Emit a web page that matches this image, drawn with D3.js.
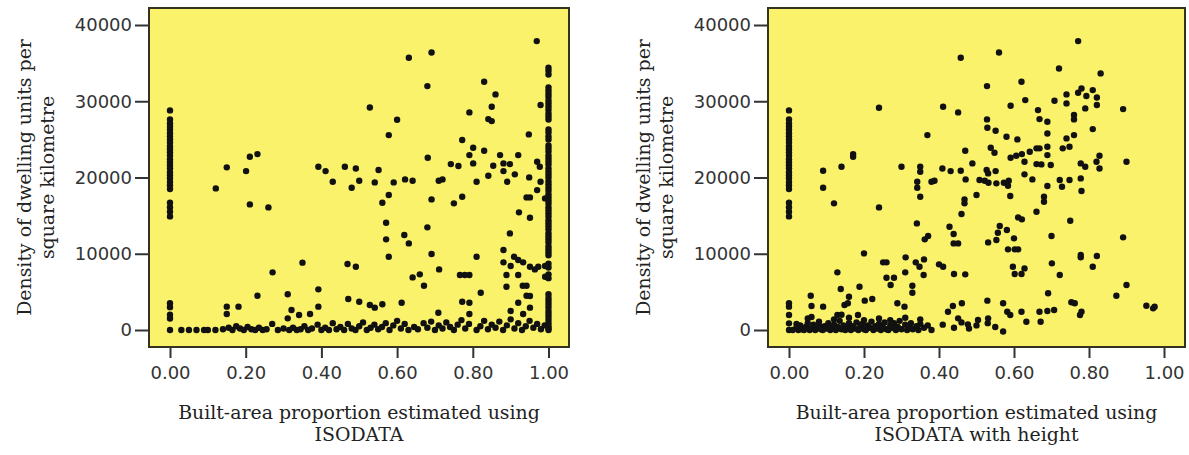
<!DOCTYPE html>
<html><head><meta charset="utf-8">
<script src="https://cdn.jsdelivr.net/npm/d3@7"></script>
<style>body{margin:0;background:#fff}svg{display:block}</style>
</head><body>
<svg id="chart" width="1189" height="455"></svg>
<script>
// ---------- DATA ----------
const xTicks = [0, 0.2, 0.4, 0.6, 0.8, 1.0];
const yTicks = [0, 10000, 20000, 30000, 40000];
const yTitleLines = ["Density of dwelling units per", "square kilometre"];
const xTitleLeft = ["Built-area proportion estimated using", "ISODATA"];
const xTitleRight = ["Built-area proportion estimated using", "ISODATA with height"];

// Left panel (ISODATA): values at x = 0
const leftZeroColumn = [28800,27600,27100,26700,26300,25800,25400,25000,24600,24100,23700,23300,22900,22400,22000,21600,21200,20700,20300,19900,19400,19000,18500,16700,16100,15500,14900,3500,3000,2000,1500,0];
// Left panel: values at x = 1
const leftOneColumn = [34400,34000,33500,31800,31400,31000,30600,30100,29700,29300,28900,28400,28000,27600,26300,25900,25400,25000,24200,23800,23400,22900,22500,22100,21700,21200,20800,20400,20000,19500,19100,18700,18300,17800,17400,17000,16600,16100,15700,15300,14900,14400,14000,13600,13200,12700,12300,11900,11500,11000,10600,10200,9800,8700,8200,7300,6800,4700,4200,3800,3400,3000,2500,2100,1700,1300,900,500,200,0];
// Left panel: scattered points [x, y]
const leftScatter = [
[0.121,18570],[0.150,21330],[0.201,20840],[0.211,22720],[0.231,23070],[0.211,16470],[0.260,16080],
[0.392,21410],[0.411,20840],[0.430,19450],[0.462,21410],[0.491,21190],[0.480,18660],[0.500,19580],
[0.528,29190],[0.541,19360],[0.551,20980],[0.561,16690],[0.578,17700],[0.578,25560],[0.591,19360],
[0.600,27570],[0.571,14070],[0.571,11890],[0.578,9610],[0.619,12450],[0.631,11360],[0.621,19750],
[0.641,19580],[0.631,35700],[0.691,36400],[0.680,31990],[0.681,22590],[0.691,17130],[0.710,19580],
[0.720,19750],[0.680,13460],[0.691,9960],[0.711,7950],[0.641,6900],[0.660,7300],[0.671,5810],
[0.742,21760],[0.762,21500],[0.750,16610],[0.772,17480],[0.772,24910],[0.791,28540],[0.791,22940],
[0.801,23900],[0.801,21850],[0.830,32560],[0.830,23510],[0.850,29280],[0.860,30900],[0.841,27660],
[0.850,27400],[0.810,19450],[0.841,20230],[0.854,21540],[0.872,22940],[0.881,21850],[0.881,20840],
[0.891,19450],[0.898,21760],[0.911,20410],[0.920,22940],[0.948,25650],[0.949,20010],[0.942,17390],
[0.951,17390],[0.922,15430],[0.951,14730],[0.969,37890],[0.979,29500],[0.970,22070],[0.977,21410],
[0.979,19450],[0.970,18350],[0.991,17260],[0.898,12670],[0.881,10490],[0.881,8870],[0.900,8390],
[0.909,9610],[0.920,9180],[0.933,8870],[0.951,8300],[0.964,7950],[0.973,8300],[0.991,8390],
[0.889,7210],[0.920,7210],[0.889,5680],[0.932,5810],[0.942,5810],[0.942,4500],[0.951,4460],
[0.920,3580],[0.951,2930],[0.900,2490],[0.933,2100],[0.991,6990],[0.810,9610],[0.766,7210],
[0.779,7210],[0.791,7210],[0.821,4890],[0.772,3710],[0.791,3580],[0.709,2270],[0.791,2100],
[0.271,7560],[0.350,8830],[0.469,8650],[0.491,8300],[0.231,4500],[0.311,4680],[0.392,5330],
[0.392,3060],[0.150,3060],[0.181,3060],[0.150,2100],[0.321,2620],[0.341,1970],[0.370,2100],
[0.311,1530],[0.471,4060],[0.500,3710],[0.528,3280],[0.541,2930],[0.561,3370],[0.612,3580]
];
// Left panel: points near zero density [x, y]
const leftBottom = [
[0.03,0],[0.05,0],[0.07,0],[0.09,0],[0.10,0],[0.12,0],[0.14,100],[0.155,300],[0.165,0],[0.175,500],
[0.185,200],[0.195,0],[0.205,400],[0.215,100],[0.225,0],[0.235,300],[0.245,0],[0.255,100],[0.27,800],
[0.285,0],[0.30,200],[0.315,0],[0.325,300],[0.335,0],[0.345,100],[0.355,500],[0.365,0],[0.375,200],
[0.39,700],[0.40,0],[0.41,300],[0.42,0],[0.43,900],[0.44,100],[0.45,400],[0.46,0],[0.47,800],[0.48,200],
[0.49,0],[0.50,500],[0.51,1000],[0.52,0],[0.53,300],[0.54,700],[0.55,100],[0.56,400],[0.57,900],[0.58,0],
[0.59,600],[0.60,1200],[0.61,200],[0.62,800],[0.63,0],[0.645,400],[0.655,100],[0.67,900],[0.68,300],
[0.69,1100],[0.70,0],[0.71,600],[0.72,200],[0.73,1000],[0.74,400],[0.75,0],[0.76,700],[0.77,1300],
[0.78,200],[0.79,800],[0.81,0],[0.82,500],[0.83,1200],[0.84,100],[0.85,700],[0.86,300],[0.87,1100],
[0.88,0],[0.89,600],[0.90,1400],[0.91,200],[0.92,900],[0.93,0],[0.94,500],[0.95,1200],[0.96,300],
[0.97,800],[0.98,100],[0.99,600]
];

// Right panel (ISODATA with height): values at x = 0
const rightZeroColumn = [28800,27600,27100,26700,26300,25800,25400,25000,24600,24100,23700,23300,22900,22400,22000,21600,21200,20700,20300,19900,19400,19000,18500,16700,16100,15500,14900,3500,3060,1970,870,0];
// Right panel: scattered points [x, y]
const rightScatter = [
[0.091,20890],[0.091,18660],[0.120,16610],[0.140,21410],[0.171,23070],[0.171,22720],[0.240,29150],
[0.240,16080],[0.300,21410],[0.350,21410],[0.350,20760],[0.342,19450],[0.342,18660],[0.350,17480],
[0.380,19450],[0.388,19580],[0.369,25560],[0.341,13980],[0.362,11890],[0.371,12320],[0.411,29280],
[0.451,28540],[0.458,35700],[0.409,21190],[0.431,20840],[0.458,20890],[0.471,19750],[0.470,23510],
[0.468,17130],[0.468,16610],[0.460,15210],[0.428,13550],[0.439,12590],[0.451,11360],[0.439,11360],
[0.500,17700],[0.489,21850],[0.508,19670],[0.528,31990],[0.528,27620],[0.529,26530],[0.551,26130],
[0.560,36400],[0.538,23900],[0.548,23250],[0.527,20980],[0.531,20540],[0.551,20840],[0.522,19580],
[0.532,19320],[0.553,19230],[0.573,19320],[0.586,19580],[0.584,18920],[0.590,17570],[0.580,25350],
[0.591,29410],[0.609,25000],[0.620,32560],[0.630,30150],[0.591,22590],[0.606,22860],[0.621,23070],
[0.628,22070],[0.628,20410],[0.649,19750],[0.642,23380],[0.660,23820],[0.660,21760],[0.673,21720],
[0.664,28840],[0.668,27660],[0.689,27310],[0.689,25780],[0.689,24040],[0.668,23820],[0.689,22940],
[0.698,21630],[0.689,18880],[0.708,30070],[0.720,34300],[0.740,30900],[0.740,29720],[0.760,28190],
[0.760,27620],[0.740,25130],[0.760,25560],[0.730,23820],[0.748,24040],[0.722,19670],[0.728,18790],
[0.748,19670],[0.778,19880],[0.780,18220],[0.778,21850],[0.790,21410],[0.771,37890],[0.771,31110],
[0.780,31680],[0.793,30680],[0.790,29060],[0.810,31460],[0.821,30500],[0.821,29500],[0.831,33650],
[0.810,26350],[0.828,22860],[0.828,21190],[0.820,22070],[0.891,28970],[0.900,22070],[0.750,14330],
[0.700,12320],[0.680,17480],[0.680,16820],[0.660,15510],[0.611,14770],[0.621,14510],[0.562,13630],
[0.581,13110],[0.557,12760],[0.553,11800],[0.531,11490],[0.600,12020],[0.584,10580],[0.602,10580],
[0.611,10580],[0.597,8300],[0.602,7340],[0.620,7340],[0.628,8080],[0.701,8740],[0.722,7210],
[0.778,9830],[0.778,9530],[0.821,9700],[0.810,8300],[0.891,12150],[0.900,5900],[0.873,4500],
[0.691,4810],[0.753,3630],[0.762,3500],[0.953,3190],[0.971,2840],[0.975,3060],
[0.200,10050],[0.251,8870],[0.260,8870],[0.311,9530],[0.338,8870],[0.348,8300],[0.360,9260],
[0.359,7210],[0.400,8610],[0.411,8300],[0.440,7340],[0.470,7300],[0.310,7560],[0.260,6860],
[0.280,6860],[0.271,5900],[0.329,5810],[0.329,4890],[0.129,7560],[0.138,5380],[0.160,4370],
[0.188,5680],[0.058,4500],[0.202,3850],[0.222,4060],[0.148,3280],[0.157,3500],[0.289,3500],
[0.308,3060],[0.060,3150],[0.091,3060],[0.129,1970],[0.184,1970],[0.437,3150],[0.461,3500],
[0.529,3850],[0.571,3500],[0.582,2400],[0.590,1970],[0.620,2400],[0.633,1090],[0.668,2400],
[0.671,1090],[0.689,2490],[0.707,2620],[0.780,2400],[0.776,1970],[0.571,-200],[0.531,1530],
[0.504,1310],[0.477,740],[0.451,1530],[0.424,2400]
];
// Right panel: points near zero density [x, y]
const rightBottom = [
[0.01,0],[0.02,300],[0.025,0],[0.03,600],[0.035,100],[0.04,0],[0.045,400],[0.05,900],[0.055,0],[0.06,200],
[0.065,700],[0.07,0],[0.075,400],[0.08,1100],[0.085,100],[0.09,0],[0.095,500],[0.10,200],[0.105,900],[0.11,0],
[0.115,300],[0.12,700],[0.125,0],[0.13,400],[0.135,1200],[0.14,100],[0.145,600],[0.15,0],[0.155,300],[0.16,900],
[0.165,0],[0.17,500],[0.175,200],[0.18,1000],[0.185,0],[0.19,400],[0.195,800],[0.20,100],[0.205,0],[0.21,600],
[0.215,300],[0.22,1100],[0.225,0],[0.23,500],[0.235,200],[0.24,800],[0.245,0],[0.25,400],[0.255,1000],[0.26,100],
[0.265,0],[0.27,600],[0.275,300],[0.28,900],[0.285,0],[0.29,400],[0.295,1200],[0.30,100],[0.31,700],[0.315,0],
[0.32,300],[0.325,900],[0.33,100],[0.34,500],[0.345,0],[0.35,800],[0.36,300],[0.37,600],[0.38,0],
[0.02,800],[0.05,1500],[0.08,600],[0.12,1400],[0.16,1600],[0.20,1300],[0.24,1500],[0.27,1300],[0.31,1600],
[0.35,1400],[0.06,1700],[0.14,2000],[0.41,700],[0.44,300],[0.46,1000],[0.48,200],[0.50,600],[0.53,900],[0.55,400]
];

// ---------- DRAW ----------
const svg = d3.select("#chart");
const y = d3.scaleLinear().domain([0, 40000]).range([330, 25]);

const panels = [
  { left: 149, right: 569, xr: [170, 548.5],
    pts: [].concat(leftZeroColumn.map(v => [0, v]), leftOneColumn.map(v => [1, v]), leftScatter, leftBottom),
    xTitle: xTitleLeft },
  { left: 768, right: 1185, xr: [789, 1164],
    pts: [].concat(rightZeroColumn.map(v => [0, v]), rightScatter, rightBottom),
    xTitle: xTitleRight }
];
const frameTop = 8, frameBottom = 347;
const tickFont = "'DejaVu Sans', sans-serif";
const titleFont = "'DejaVu Serif', serif";

panels.forEach(p => {
  const x = d3.scaleLinear().domain([0, 1]).range(p.xr);
  const g = svg.append("g");
  g.append("rect").attr("x", p.left).attr("y", frameTop)
    .attr("width", p.right - p.left).attr("height", frameBottom - frameTop)
    .attr("fill", "#fbf26c");
  g.append("g").selectAll("circle").data(p.pts).join("circle")
    .attr("cx", d => x(d[0])).attr("cy", d => y(d[1])).attr("r", 3.2)
    .attr("fill", "#111");
  g.append("rect").attr("x", p.left).attr("y", frameTop)
    .attr("width", p.right - p.left).attr("height", frameBottom - frameTop)
    .attr("fill", "none").attr("stroke", "#333320").attr("stroke-width", 2);

  const ax = g.append("g").attr("transform", `translate(0,${frameBottom})`)
    .call(d3.axisBottom(x).tickValues(xTicks).tickFormat(d3.format(".2f")).tickSize(11).tickPadding(8));
  const ay = g.append("g").attr("transform", `translate(${p.left},0)`)
    .call(d3.axisLeft(y).tickValues(yTicks).tickFormat(d3.format("d")).tickSize(14).tickPadding(3));
  [ax, ay].forEach(a => {
    a.select(".domain").remove();
    a.selectAll("line").attr("stroke", "#333").attr("stroke-width", 2);
    a.selectAll("text").attr("font-family", tickFont).attr("font-size", 18).attr("fill", "#333");
  });

  const cx = (p.left + p.right) / 2;
  const xt = g.append("text").attr("class", "title").attr("font-family", titleFont).attr("font-size", 18)
    .attr("fill", "#222").attr("text-anchor", "middle");
  p.xTitle.forEach((t, i) => xt.append("tspan").attr("x", cx).attr("y", 419 + i * 22).text(t));

  const cy = (frameTop + frameBottom) / 2;
  const yx = p.left - 118;
  const yt = g.append("text").attr("class", "title").attr("font-family", titleFont).attr("font-size", 18)
    .attr("fill", "#222").attr("text-anchor", "middle")
    .attr("transform", `translate(${yx},${cy}) rotate(-90)`);
  yTitleLines.forEach((t, i) => yt.append("tspan").attr("x", 0).attr("y", i * 23).text(t));
});

// fit title font so first line matches the reference width (~362px)
const probe = svg.select("text.title tspan").node();
const w = probe.getComputedTextLength();
const fs = 18 * 362 / w;
svg.selectAll("text.title").attr("font-size", fs.toFixed(2));
</script>
</body></html>
